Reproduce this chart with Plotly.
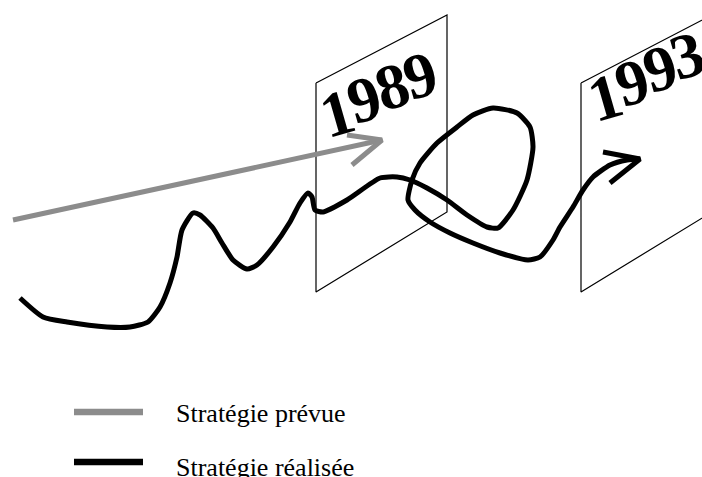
import plotly.graph_objects as go

# Canvas in pixel-like units (x: 0..702, y: 0..477 downward)
W, H = 702, 477

# Realised strategy (black wandering curve)
real_x = [20, 43, 67, 107, 130, 148, 160, 170, 177, 182, 193, 200, 213, 222, 233, 247, 257, 273, 290, 300, 308, 312, 315, 323, 347, 380, 397, 410, 427, 447, 467, 487, 498, 513, 527, 533, 530, 517, 493, 473, 457, 437, 420, 412, 408, 415, 430, 450, 473, 500, 528, 540, 553, 560, 573, 583, 593, 610, 627, 640]
real_y = [298, 317, 322, 327, 327, 322, 307, 283, 257, 230, 213, 215, 228, 243, 260, 269, 265, 247, 222, 203, 193, 197, 210, 212, 200, 178, 177, 180, 188, 200, 215, 227, 228, 210, 180, 147, 127, 113, 108, 115, 127, 143, 163, 180, 200, 210, 222, 233, 243, 253, 260, 257, 240, 227, 207, 190, 177, 165, 160, 159]
real_head_x = [603, 640, 610]
real_head_y = [152, 159, 183]

# Planned strategy (grey straight arrow)
plan_x = [13, 382]
plan_y = [220, 140]
plan_head_x = [347, 382, 352]
plan_head_y = [135, 140, 165]

# Year panels (parallelograms)
panel1989_x = [316, 447, 447, 316, 316]
panel1989_y = [83, 15, 212, 292, 83]
panel1993_x = [581, 712, 712, 581, 581]
panel1993_y = [83, 15, 212, 292, 83]

# Year labels, one digit at a time (digit, x, y)
year_digits = ["1", "9", "8", "9", "1", "9", "9", "3"]
digit_x = [337, 364, 392, 420, 605, 632, 660, 687]
digit_y = [113, 99, 86, 75, 97, 82, 68, 55]

legend_labels = ["Stratégie prévue", "Stratégie réalisée"]
legend_colors = ["#8c8c8c", "#000000"]
legend_line_y = [412, 462]
legend_text_y = [413, 467]

fig = go.Figure()

for px, py in [(panel1989_x, panel1989_y), (panel1993_x, panel1993_y)]:
    fig.add_trace(go.Scatter(x=px, y=py, mode="lines",
                             line=dict(color="black", width=1.2),
                             hoverinfo="skip", showlegend=False))

fig.add_trace(go.Scatter(x=plan_x, y=plan_y, mode="lines",
                         line=dict(color="#8c8c8c", width=5),
                         hoverinfo="skip", showlegend=False))
fig.add_trace(go.Scatter(x=plan_head_x, y=plan_head_y, mode="lines",
                         line=dict(color="#8c8c8c", width=5),
                         hoverinfo="skip", showlegend=False))

fig.add_trace(go.Scatter(x=real_x, y=real_y, mode="lines",
                         line=dict(color="black", width=5, shape="spline", smoothing=0.6),
                         hoverinfo="skip", showlegend=False))
fig.add_trace(go.Scatter(x=real_head_x, y=real_head_y, mode="lines",
                         line=dict(color="black", width=5),
                         hoverinfo="skip", showlegend=False))

for lbl, col, ly, ty in zip(legend_labels, legend_colors, legend_line_y, legend_text_y):
    fig.add_trace(go.Scatter(x=[74, 143], y=[ly, ly], mode="lines",
                             line=dict(color=col, width=6.5),
                             hoverinfo="skip", showlegend=False))
    fig.add_annotation(x=174, y=ty, text=lbl, showarrow=False,
                       xanchor="left", yanchor="middle",
                       font=dict(family="Liberation Serif", size=26, color="black"))

for d, tx, ty in zip(year_digits, digit_x, digit_y):
    fig.add_annotation(x=tx, y=ty, text="<b>%s</b>" % d, showarrow=False,
                       textangle=-16, xanchor="center", yanchor="middle",
                       font=dict(family="Liberation Serif", size=64, color="black"))

fig.update_xaxes(range=[0, W], visible=False, fixedrange=True)
fig.update_yaxes(range=[H, 0], visible=False, fixedrange=True)
fig.update_layout(width=W, height=H, margin=dict(l=0, r=0, t=0, b=0),
                  paper_bgcolor="white", plot_bgcolor="white", showlegend=False)

fig.write_html("out.html", config={"displayModeBar": False},
               post_script="document.body.style.margin='0';document.body.style.overflow='hidden';")
